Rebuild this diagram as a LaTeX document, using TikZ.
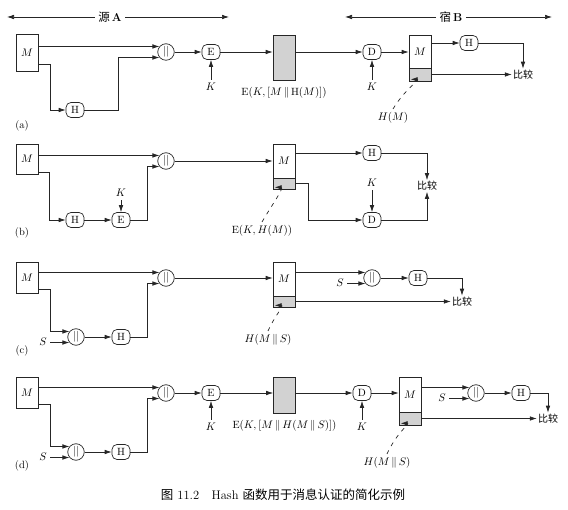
\documentclass[tikz,border=0pt]{standalone}
\usepackage{fontspec}
\newfontfamily\cjk{Noto Sans CJK SC}
\usetikzlibrary{arrows.meta,positioning}
\tikzset{
  arr/.style={-{Latex[length=7pt,width=4.6pt]}, line width=0.7pt, draw=black!85},
  lead/.style={arr, dash pattern=on 4pt off 5pt},
  mbox/.style={draw=black!85, line width=0.7pt, minimum width=22pt, inner sep=0pt},
  gbox/.style={mbox, fill=gray!35},
  fn/.style={draw=black!85, line width=0.7pt, rounded corners=5pt, minimum width=18pt, minimum height=15pt, inner sep=0pt},
  cat/.style={draw=black!85, line width=0.7pt, circle, minimum size=16.5pt, inner sep=0pt},
  cmp/.style={font=\cjk\fontsize{10}{11}\selectfont, inner sep=1pt},
}
\begin{document}
\begin{tikzpicture}[x=1pt,y=-1pt,font=\fontsize{10.5}{12}\selectfont]
\useasboundingbox (0,0) rectangle (568,510);
% headers
\node[font=\fontsize{11.5}{13}\selectfont] (srcA) at (110,17) {{\cjk 源}\,\textbf{A}};
\node[font=\fontsize{11.5}{13}\selectfont] (dstB) at (451,17) {{\cjk 宿}\,\textbf{B}};
\coordinate (aL) at (7,17);
\coordinate (aR) at (229,17);
\coordinate (bL) at (345,17);
\coordinate (bR) at (552,17);
\draw[arr] (srcA) -- (aL);
\draw[arr] (srcA) -- (aR);
\draw[arr] (dstB) -- (bL);
\draw[arr] (dstB) -- (bR);
\foreach \l/\y in {a/126,b/233,c/351,d/466}{
  \node (lbl\l) at (22,\y) {(\l)};
}

% (a)
\node[mbox,minimum height=37pt] (Ma) at (27,52.5) {$M$};
\node[cat] (ca) at (166,52) {$||$};
\node[fn] (ha) at (75,110) {H};
\node[fn] (ea) at (211,52) {E};
\node (ka) at (211,87) {$K$};
\node[gbox,minimum height=45pt] (ga) at (284,57.5) {};
\node[below=3pt of ga] (gla) {E$(K, [M \,\|\, \mathrm{H}(M)])$};
\node[fn] (da) at (372,52) {D};
\node (kb) at (372,87) {$K$};
\node[mbox,minimum height=33pt] (mba) at (420,51.5) {$M$};
\node[gbox,minimum height=13pt] (tba) at (420,74.5) {};
\node[fn] (hb) at (469,43) {H};
\node[cmp] (cmpa) at (523,74.5) {比较};
\node (hma) at (393,118) {$H(M)$};
\draw[arr] (Ma.east |- ca.140) -- (ca.140);
\draw[arr] ([yshift=-12pt]Ma.east) -- ++(12,0) |- (ha);
\draw[arr] (ha.east) -- ++(34,0) |- (ca.220);
\draw[arr] (ca) -- (ea);
\draw[arr] (ka) -- (ea);
\draw[arr] (ea) -- (ea -| ga.west);
\draw[arr] (ga.east |- da) -- (da);
\draw[arr] (kb) -- (da);
\draw[arr] (da) -- (da -| mba.west);
\draw[arr] (mba.east |- hb) -- (hb);
\draw[arr] (hb) -| (cmpa);
\draw[arr] (tba) -- (cmpa);
\draw[lead] (hma.north) .. controls +(12,-20) and +(10,0) .. ([shift={(2pt,2pt)}]tba.south west);

% (b)
\node[mbox,minimum height=30pt] (Mb) at (27,159) {$M$};
\node[cat] (cb) at (166,161) {$||$};
\node[fn] (hc) at (75,220) {H};
\node[fn] (eb) at (121,220) {E};
\node (kc) at (121,193) {$K$};
\node[mbox,minimum height=34pt] (mbb) at (284,161) {$M$};
\node[gbox,minimum height=11pt] (tbb) at (284,183.5) {};
\node[fn] (hd) at (372,153) {H};
\node[fn] (db) at (372,220) {D};
\node (kd) at (372,183) {$K$};
\node[cmp] (cmpb) at (427,186) {比较};
\node (ekh) at (262,231) {E$(K, H(M))$};
\draw[arr] (Mb.east |- cb.140) -- (cb.140);
\draw[arr] ([yshift=-13pt]Mb.east) -- ++(11,0) |- (hc);
\draw[arr] (hc) -- (eb);
\draw[arr] (kc) -- (eb);
\draw[arr] (eb.east) -- ++(17,0) |- (cb.220);
\draw[arr] (cb) -- (cb -| mbb.west);
\draw[arr] (mbb.east |- hd) -- (hd);
\draw[arr] (hd) -| (cmpb);
\draw[arr] (tbb.east) -- ++(13,0) |- (db);
\draw[arr] (kd) -- (db);
\draw[arr] (db) -| (cmpb);
\draw[lead] (ekh.north) .. controls +(8,-14) and +(10,0) .. ([shift={(2pt,2pt)}]tbb.south west);

% (c)
\node[mbox,minimum height=31pt] (Mc) at (27,277.5) {$M$};
\node[cat] (cc) at (166,278) {$||$};
\node[cat] (sc) at (76,337) {$||$};
\node (sla) at (43,342) {$S$};
\node[fn] (he) at (121,337) {H};
\node[mbox,minimum height=34pt] (mbc) at (284,279) {$M$};
\node[gbox,minimum height=11pt] (tbc) at (284,301.5) {};
\node[cat] (cd) at (372,278) {$||$};
\node (slb) at (340,283) {$S$};
\node[fn] (hf) at (418,278) {H};
\node[cmp] (cmpc) at (462,301.5) {比较};
\node (hms) at (268,340) {$H(M \,\|\, S)$};
\draw[arr] (Mc.east |- cc.140) -- (cc.140);
\draw[arr] ([yshift=-12pt]Mc.east) -- ++(12,0) |- (sc.140);
\draw[arr] (sla.east |- sc.220) -- (sc.220);
\draw[arr] (sc) -- (he);
\draw[arr] (he.east) -- ++(17,0) |- (cc.220);
\draw[arr] (cc) -- (cc -| mbc.west);
\draw[arr] (mbc.east |- cd.140) -- (cd.140);
\draw[arr] (slb.east |- cd.220) -- (cd.220);
\draw[arr] (cd) -- (hf);
\draw[arr] (hf) -| (cmpc);
\draw[arr] (tbc) -- (cmpc);
\draw[lead] (hms.north) .. controls +(6,-14) and +(10,0) .. ([shift={(2pt,2pt)}]tbc.south west);

% (d)
\node[mbox,minimum height=31pt] (Md) at (27,392.5) {$M$};
\node[cat] (cf) at (166,393) {$||$};
\node[cat] (sd) at (76,452) {$||$};
\node (slc) at (43,457) {$S$};
\node[fn] (hg) at (121,452) {H};
\node[fn] (ec) at (211,393) {E};
\node (ke) at (211,427) {$K$};
\node[gbox,minimum height=36pt] (gd) at (284.5,395) {};
\node[below=3pt of gd] (gde) {E$(K, [M \,\|\, H(M \,\|\, S)])$};
\node[fn] (dd) at (362,393) {D};
\node (kf) at (362,427) {$K$};
\node[mbox,minimum height=35pt] (mbd) at (410,394.5) {$M$};
\node[gbox,minimum height=13pt] (tbd) at (410,418.5) {};
\node[cat] (ch) at (476,393) {$||$};
\node (sld) at (442,398) {$S$};
\node[fn] (hh) at (521,393) {H};
\node[cmp] (cmpd) at (548,418.5) {比较};
\node (hmsd) at (387,463) {$H(M \,\|\, S)$};
\draw[arr] (Md.east |- cf.140) -- (cf.140);
\draw[arr] ([yshift=-12pt]Md.east) -- ++(12,0) |- (sd.140);
\draw[arr] (slc.east |- sd.220) -- (sd.220);
\draw[arr] (sd) -- (hg);
\draw[arr] (hg.east) -- ++(17,0) |- (cf.220);
\draw[arr] (cf) -- (ec);
\draw[arr] (ke) -- (ec);
\draw[arr] (ec) -- (ec -| gd.west);
\draw[arr] (gd.east |- dd) -- (dd);
\draw[arr] (kf) -- (dd);
\draw[arr] (dd) -- (dd -| mbd.west);
\draw[arr] (mbd.east |- ch.140) -- (ch.140);
\draw[arr] (sld.east |- ch.220) -- (ch.220);
\draw[arr] (ch) -- (hh);
\draw[arr] (hh) -| (cmpd);
\draw[arr] (tbd) -- (cmpd);
\draw[lead] (hmsd.north) .. controls +(10,-22) and +(10,0) .. ([shift={(2pt,2pt)}]tbd.south west);

% caption
\node[font=\fontsize{12.5}{14}\selectfont] (cap) at (283,495) {{\cjk 图} 11.2\quad Hash {\cjk 函数用于消息认证的简化示例}};
\end{tikzpicture}
\end{document}
